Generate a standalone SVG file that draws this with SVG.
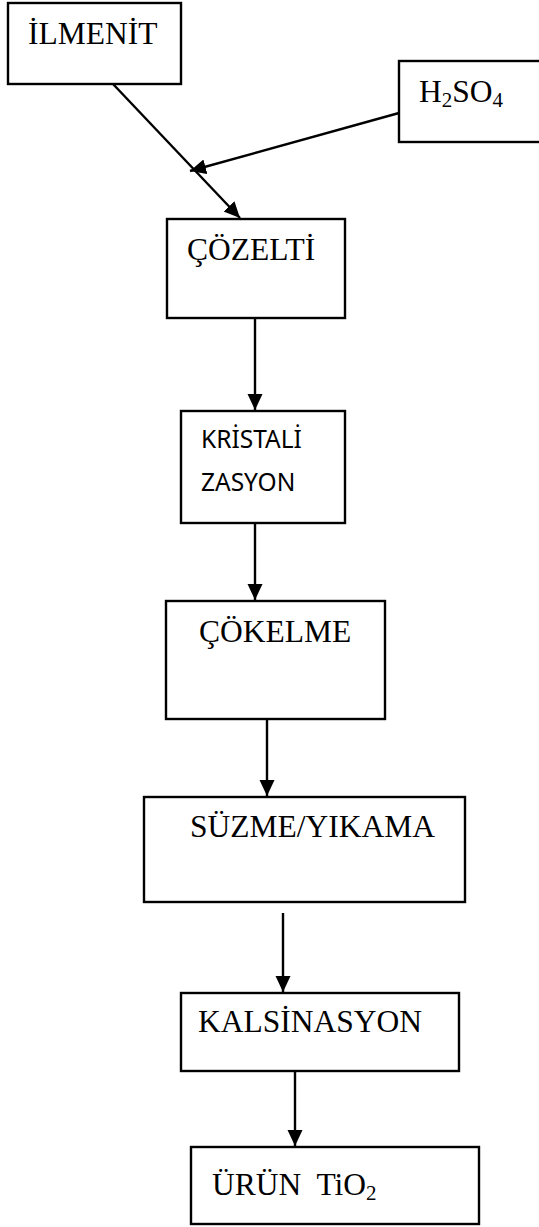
<svg xmlns="http://www.w3.org/2000/svg" width="539" height="1227" viewBox="0 0 539 1227">
<style>
.box{fill:#fff;stroke:#000;stroke-width:2.4}
.t{font-family:"Liberation Serif","Times New Roman",serif;font-size:31.5px;fill:#000}
.s{font-family:"Noto Sans","Open Sans",sans-serif;font-size:24.5px;fill:#000}
.sub{font-size:21px}
.c{stroke:#000;stroke-width:2.4;fill:none;marker-end:url(#ah)}
</style>
<defs>
<marker id="ah" markerUnits="userSpaceOnUse" markerWidth="17" markerHeight="16" refX="16" refY="7.5" orient="auto">
<path d="M0,0 L16,7.5 L0,15 z" fill="#000"/>
</marker>
</defs>
<rect width="539" height="1227" fill="#fff"/>
<g id="ilmenit"><rect class="box" x="8" y="3" width="173" height="81"/><text class="t" x="28" y="44">İLMENİT</text></g>
<g id="h2so4"><rect class="box" x="399" y="61" width="150" height="81"/><text class="t" x="419" y="102">H<tspan class="sub" dy="5">2</tspan><tspan dy="-5">SO</tspan><tspan class="sub" dy="5">4</tspan></text></g>
<g id="cozelti"><rect class="box" x="167" y="219" width="178" height="99"/><text class="t" x="187" y="260">ÇÖZELTİ</text></g>
<g id="kristalizasyon"><rect class="box" x="181" y="411" width="164" height="112"/><text class="s" x="201" y="448">KRİSTALİ</text><text class="s" x="201" y="491">ZASYON</text></g>
<g id="cokelme"><rect class="box" x="166" y="601" width="219" height="118"/><text class="t" x="199" y="642">ÇÖKELME</text></g>
<g id="suzme"><rect class="box" x="144" y="797" width="321" height="105"/><text class="t" x="190" y="837">SÜZME/YIKAMA</text></g>
<g id="kalsinasyon"><rect class="box" x="181" y="993" width="278" height="78"/><text class="t" x="198" y="1032">KALSİNASYON</text></g>
<g id="urun"><rect class="box" x="191" y="1147" width="288" height="77"/><text class="t" x="212" y="1195" xml:space="preserve">ÜRÜN  TiO<tspan class="sub" dy="5">2</tspan></text></g>
<g id="connectors">
<line class="c" x1="113" y1="84" x2="240" y2="218"/>
<line class="c" x1="399" y1="113" x2="190" y2="171"/>
<line class="c" x1="255" y1="319" x2="255" y2="410"/>
<line class="c" x1="255" y1="523" x2="255" y2="600"/>
<line class="c" x1="267" y1="719" x2="267" y2="796"/>
<line class="c" x1="283" y1="913" x2="283" y2="992"/>
<line class="c" x1="295" y1="1071" x2="295" y2="1146"/>
</g>
</svg>
